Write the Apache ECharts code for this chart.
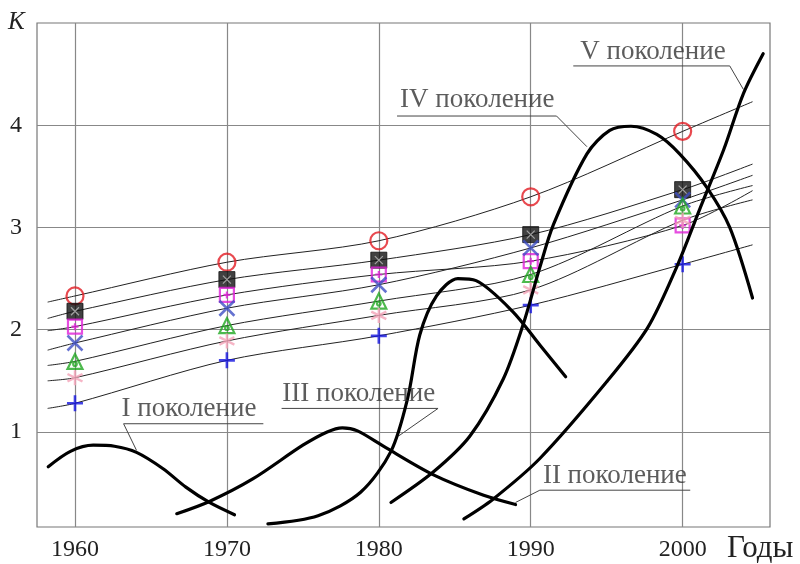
<!DOCTYPE html>
<html><head><meta charset="utf-8">
<script src="https://cdn.jsdelivr.net/npm/echarts@6/dist/echarts.min.js"></script>
<style>html,body{margin:0;padding:0;background:#fff}#c{width:800px;height:564px}</style>
</head><body><div id="c"></div>
<script>
// ---- data ----
const years = [1960, 1970, 1980, 1990, 2000];
const tickYears = [1960, 1970, 1980, 1990, 2000];
const tickK = [1, 2, 3, 4];
const kCircle = [2.33, 2.66, 2.87, 3.30, 3.94];
const kSquareBlack = [2.18, 2.49, 2.68, 2.93, 3.37];
const kSquareMagenta = [2.03, 2.34, 2.54, 2.67, 3.02];
const kCross = [1.87, 2.21, 2.44, 2.80, 3.27];
const kTriangle = [1.69, 2.04, 2.28, 2.54, 3.21];
const kStar = [1.53, 1.89, 2.14, 2.39, 3.07];
const kPlus = [1.28, 1.70, 1.94, 2.24, 2.64];

const trendYears = [1958.2, 1960, 1970, 1980, 1990, 2000, 2004.6];
const trendCircle = [2.27, 2.33, 2.66, 2.87, 3.30, 3.94, 4.23];
const trendSquareBlack = [2.11, 2.18, 2.49, 2.68, 2.93, 3.37, 3.62];
const trendSquareMagenta = [1.99, 2.03, 2.34, 2.54, 2.67, 3.02, 3.36];
const trendCross = [1.80, 1.87, 2.21, 2.44, 2.80, 3.27, 3.51];
const trendTriangle = [1.65, 1.69, 2.04, 2.28, 2.54, 3.21, 3.41];
const trendStar = [1.50, 1.53, 1.89, 2.14, 2.39, 3.07, 3.27];
const trendPlus = [1.23, 1.28, 1.70, 1.94, 2.24, 2.64, 2.83];

const genI = [[1958.24,0.66],[1959.7,0.81],[1961.2,0.87],[1962.6,0.86],[1964.05,0.80],[1965.8,0.64],[1967.3,0.46],[1968.85,0.31],[1970.5,0.19]];
const genB = [[1966.7,0.20],[1968.85,0.32],[1971.7,0.54],[1975.0,0.87],[1976.6,1.00],[1977.6,1.04],[1978.6,1.01],[1980.3,0.86],[1983.6,0.58],[1986.9,0.38],[1989.0,0.29]];
const genC = [[1972.7,0.10],[1976.0,0.18],[1978.8,0.41],[1980.8,0.81],[1981.9,1.33],[1982.7,1.95],[1983.8,2.33],[1985.2,2.50],[1986.4,2.48],[1988.8,2.18],[1990.6,1.85],[1992.3,1.54]];
const genD = [[1980.8,0.31],[1983.6,0.61],[1986.0,0.96],[1988.2,1.52],[1989.5,2.05],[1990.6,2.61],[1991.5,3.03],[1993.7,3.72],[1995.2,3.95],[1996.6,3.99],[1998.3,3.91],[1999.8,3.72],[2001.6,3.39],[2003.1,3.00],[2004.6,2.31]];
const genE = [[1985.6,0.15],[1987.5,0.34],[1990.6,0.74],[1995.0,1.49],[1997.7,2.02],[1999.6,2.61],[2001.1,3.17],[2002.7,3.76],[2004.0,4.31],[2005.3,4.70]];

const labelTexts = ['I поколение', 'III поколение', 'II поколение', 'IV поколение', 'V поколение'];
const labelAnchors = [[1963.06,1.23],[1973.65,1.37],[1990.8,0.57],[1981.4,4.25],[1993.26,4.72]];
const leaderI = [[1972.4,1.08],[1963.2,1.08],[1964.05,0.82]];
const leaderIII = [[1973.6,1.23],[1983.9,1.23],[1981.3,0.96]];
const leaderII = [[2000.5,0.43],[1990.6,0.43],[1989.0,0.31]];
const leaderIV = [[1981.2,4.09],[1991.7,4.09],[1993.7,3.79]];
const leaderV = [[1992.8,4.58],[2003.1,4.58],[2004.0,4.35]];

// ---- build ----
const SERIF = '"Liberation Serif", "DejaVu Serif", serif';
const zip = (xs, ys) => xs.map((x, i) => [x, ys[i]]);
const chart = echarts.init(document.getElementById('c'), null, {renderer: 'canvas'});

function trend(vals) {
  return {type: 'line', data: zip(trendYears, vals), smooth: 0.3, showSymbol: false, silent: true,
    lineStyle: {color: '#222', width: 1}, z: 2};
}
function gen(pts) {
  return {type: 'line', data: pts, smooth: 0.3, showSymbol: false, silent: true,
    lineStyle: {color: '#000', width: 3.2, cap: 'round', join: 'round'}, z: 6};
}
function leader(pts) {
  return {type: 'line', data: pts, showSymbol: false, silent: true,
    lineStyle: {color: '#444', width: 1}, z: 3};
}
function marker(vals, symbol, size, color, fill, bw, z) {
  return {type: 'scatter', data: zip(years, vals), symbol: symbol, symbolSize: size, silent: true,
    itemStyle: {color: fill, borderColor: color, borderWidth: bw}, z: z || 4};
}

const option = {
  animation: false,
  backgroundColor: '#fff',
  grid: {left: 37, right: 30, top: 23, bottom: 37, show: true, borderColor: '#777', borderWidth: 1.2, backgroundColor: 'transparent'},
  xAxis: {
    type: 'value', min: 1957.5, max: 2005.75,
    axisLine: {show: false}, axisTick: {show: false, customValues: tickYears},
    axisLabel: {customValues: tickYears, formatter: v => String(v), color: '#222', fontFamily: SERIF, fontSize: 24, margin: 11},
    splitLine: {show: true, lineStyle: {color: '#888', width: 1.2}}
  },
  yAxis: {
    type: 'value', min: 0.07, max: 5.0,
    axisLine: {show: false}, axisTick: {show: false, customValues: tickK},
    axisLabel: {customValues: tickK, formatter: v => String(v), color: '#222', fontFamily: SERIF, fontSize: 24, margin: 15},
    splitLine: {show: true, lineStyle: {color: '#888', width: 1.2}}
  },
  graphic: [
    {type: 'text', left: 8, top: 10, style: {text: 'K', font: 'italic 25px ' + SERIF, fill: '#222'}},
    {type: 'text', left: 727, top: 533, style: {text: 'Годы', font: '31px ' + SERIF, fill: '#222'}}
  ],
  series: [
    trend(trendCircle), trend(trendSquareBlack), trend(trendSquareMagenta), trend(trendCross),
    trend(trendTriangle), trend(trendStar), trend(trendPlus),
    leader(leaderI), leader(leaderIII), leader(leaderII), leader(leaderIV), leader(leaderV),
    marker(kCircle, 'circle', 17, '#e21b23', 'rgba(0,0,0,0)', 2.2),
    marker(kSquareBlack, 'rect', 16, '#111', '#111', 1),
    marker(kSquareBlack, 'path://M0,0L10,10M10,0L0,10', 8, '#bbb', 'rgba(0,0,0,0)', 1.2, 5),
    marker(kSquareMagenta, 'path://M0,0L10,0L10,10L0,10Z M5,2.5L5,7.5M2.5,5L7.5,5', 14, '#e020d8', 'rgba(0,0,0,0)', 2.2),
    marker(kCross, 'path://M0,0L10,10M10,0L0,10', 15, '#3f4fc4', 'rgba(0,0,0,0)', 2.6),
    marker(kTriangle, 'path://M5,0L10,9L0,9Z M3.8,6a1.2,1.2 0 1,0 2.4,0a1.2,1.2 0 1,0 -2.4,0', 15, '#21a821', 'rgba(0,0,0,0)', 2.2),
    marker(kStar, 'path://M5,0L5,10M0.7,2.5L9.3,7.5M0.7,7.5L9.3,2.5', 15, '#f4a3b8', 'rgba(0,0,0,0)', 2.4),
    marker(kPlus, 'path://M5,0L5,10M0,5L10,5', 16, '#1414e0', 'rgba(0,0,0,0)', 2.6),
    gen(genI), gen(genB), gen(genC), gen(genD), gen(genE),
    {type: 'scatter', symbolSize: 0, silent: true, z: 7,
      data: labelAnchors.map((p, i) => ({value: p, name: labelTexts[i]})),
      label: {show: true, position: 'right', distance: 0, formatter: '{b}', color: '#333', fontFamily: SERIF, fontSize: 27}}
  ]
};
chart.setOption(option);
</script></body></html>
